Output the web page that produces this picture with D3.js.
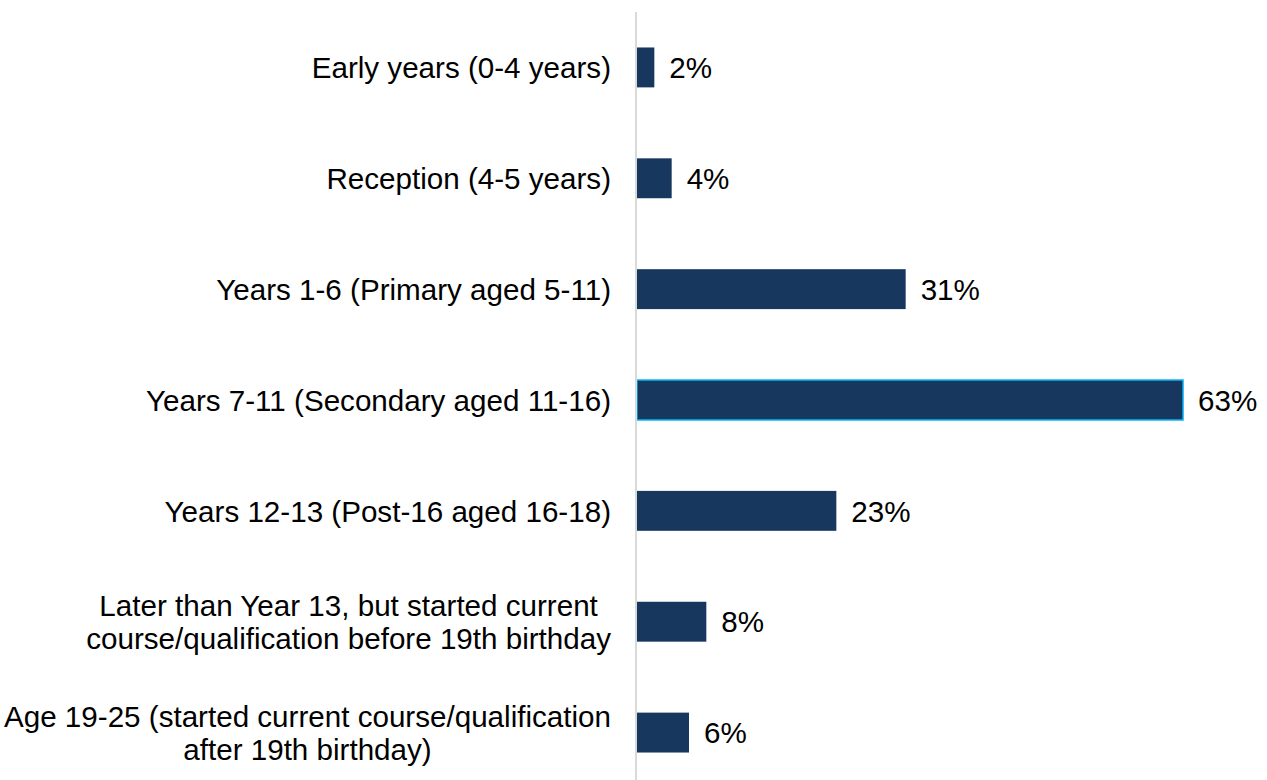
<!DOCTYPE html>
<html>
<head>
<meta charset="utf-8">
<script src="https://cdn.jsdelivr.net/npm/d3@7/dist/d3.min.js"></script>
<style>
  html, body { margin: 0; padding: 0; background: #fff; }
  svg { display: block; }
  text { font-family: "Liberation Sans", Arial, sans-serif; fill: #000; }
</style>
</head>
<body>
<svg id="chart" width="1267" height="780"></svg>
<script>
const categories = [
  ["Early years (0-4 years)"],
  ["Reception (4-5 years)"],
  ["Years 1-6 (Primary aged 5-11)"],
  ["Years 7-11 (Secondary aged 11-16)"],
  ["Years 12-13 (Post-16 aged 16-18)"],
  ["Later than Year 13, but started current", "course/qualification before 19th birthday"],
  ["Age 19-25 (started current course/qualification", "after 19th birthday)"]
];
const values = [2, 4, 31, 63, 23, 8, 6];
const highlighted = [false, false, false, true, false, false, false];

const svg = d3.select("#chart");
const x0 = 637;
const fontSize = 29.6;

const y = d3.scaleBand()
  .domain(d3.range(categories.length))
  .range([12, 788])
  .paddingInner(0.64)
  .paddingOuter(0.32);

const x = d3.scaleLinear().domain([0, 63]).range([x0, 1183]);

// bars
svg.selectAll("rect.bar")
  .data(values)
  .join("rect")
  .attr("class", "bar")
  .attr("x", x(0))
  .attr("y", (d, i) => y(i))
  .attr("width", d => x(d) - x(0))
  .attr("height", y.bandwidth())
  .attr("fill", "#17375E")
  .attr("stroke", (d, i) => highlighted[i] ? "#00B0F0" : "none")
  .attr("stroke-width", 1.5);

// axis line
svg.append("line")
  .attr("x1", x0 - 1).attr("x2", x0 - 1)
  .attr("y1", 12).attr("y2", 780)
  .attr("stroke", "#D9D9D9")
  .attr("stroke-width", 2);

// value labels
svg.selectAll("text.val")
  .data(values)
  .join("text")
  .attr("class", "val")
  .attr("x", d => x(d) + 15)
  .attr("y", (d, i) => y(i) + y.bandwidth() / 2)
  .attr("dy", "0.36em")
  .attr("font-size", fontSize)
  .text(d => d + "%");

// category labels (multi-line centered block, right aligned)
const labelRight = 611;
const lineH = 33;
categories.forEach((lines, i) => {
  const cy = y(i) + y.bandwidth() / 2;
  const g = svg.append("g");
  const texts = lines.map((l, k) => g.append("text")
    .attr("font-size", fontSize)
    .attr("y", cy + (k - (lines.length - 1) / 2) * lineH)
    .attr("dy", "0.36em")
    .attr("text-anchor", "middle")
    .text(l));
  const widths = texts.map(t => t.node().getComputedTextLength());
  const maxW = d3.max(widths);
  const center = labelRight - maxW / 2;
  texts.forEach(t => t.attr("x", center));
});
</script>
</body>
</html>
